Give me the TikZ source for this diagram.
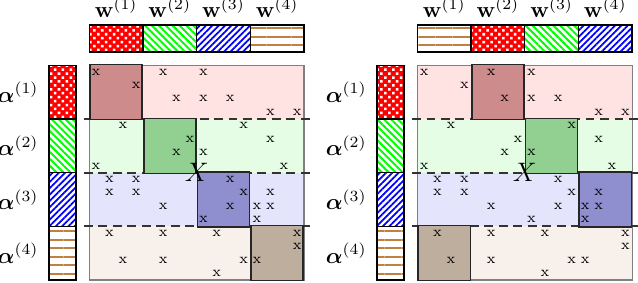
\documentclass[tikz,border=0pt]{standalone}
\usepackage{amsmath}
\usepackage{tikz}
\usetikzlibrary{patterns, patterns.meta}

\definecolor{faixa0}{RGB}{255,227,227}
\definecolor{faixa1}{RGB}{228,253,228}
\definecolor{faixa2}{RGB}{228,228,252}
\definecolor{faixa3}{RGB}{248,240,235}
\definecolor{bloco0}{RGB}{205,139,139}
\definecolor{bloco1}{RGB}{145,208,145}
\definecolor{bloco2}{RGB}{143,143,207}
\definecolor{bloco3}{RGB}{190,174,158}

\tikzset{
  padrao0/.style={preaction={fill=red}, pattern={Dots[distance=2.5pt, radius=0.8pt, angle=45]}, pattern color=white},
  padrao1/.style={preaction={fill=white}, pattern={Lines[distance=2.2pt, angle=-45, line width=0.9pt]}, pattern color=green},
  padrao2/.style={preaction={fill=white}, pattern={Lines[distance=2pt, angle=45, line width=0.8pt]}, pattern color=blue},
  padrao3/.style={preaction={fill=white}, pattern={Lines[distance=3.8pt, angle=0, line width=0.9pt]}, pattern color=brown},
  barra/.style={draw=black, line width=0.6pt},
  bloco/.style={draw=black!85, line width=0.7pt},
  divisao/.style={black!80, line width=0.9pt, dash pattern=on 4pt off 2.5pt},
  marca/.style={inner sep=0pt, font=\fontsize{6.5}{6.5}\selectfont},
}

\begin{document}
\begin{tikzpicture}[x=0.212cm, y=-0.212cm]
  \useasboundingbox (-6.654,-4.866) rectangle (40.887,16.148);
  \foreach \p/\dx/\sh in {E/0/0, D/24.45/1} {
    \begin{scope}[shift={(\dx,0)}]
      % Faixas da matriz
      \foreach \k in {0,1,2,3}
        \fill[faixa\k] (0,4*\k) rectangle (16,4*\k+4);
      \draw[gray, line width=0.5pt] (0,0) rectangle (16,16);
      % Linhas tracejadas
      \foreach \y in {4,8,12}
        \draw[divisao] (-0.4,\y) -- (16.45,\y);
      % Blocos escuros
      \foreach \k in {0,1,2,3} {
        \pgfmathtruncatemacro{\j}{mod(\k+\sh,4)}
        \draw[bloco, fill=bloco\k] (4*\j+0.06,4*\k-0.05) rectangle (4*\j+3.94,4*\k+4.05);
      }
      % Entradas x
      \foreach \c/\r in {0/0, 5/0, 8/0, 3/1, 6/2, 8/2, 10/2, 13/3, 15/3,
                         2/4, 11/4, 7/5, 13/5, 6/6, 8/6, 0/7, 14/7,
                         1/8, 3/8, 10/8, 1/9, 3/9, 11/9, 13/9,
                         5/10, 10/10, 12/10, 13/10, 8/11, 12/11,
                         1/12, 5/12, 9/12, 15/12, 15/13,
                         2/14, 5/14, 11/14, 12/14, 9/15}
        \node[marca] (x\p-\r-\c) at (\c+0.5,\r+0.5) {x};
      \node[font=\large, inner sep=0pt] (X\p) at (8,8) {$X$};
      % Barras w e alfa
      \foreach \k/\n in {0/1, 1/2, 2/3, 3/4} {
        \pgfmathtruncatemacro{\i}{mod(\k-\sh+4,4)}
        \draw[barra, padrao\i] (4*\k,-3) rectangle (4*\k+4,-1);
        \node[anchor=base] (w\p\n) at (4*\k+2,-3.55) {$\mathbf{w}^{(\n)}$};
        \draw[barra, padrao\k] (-3,4*\k) rectangle (-1,4*\k+4);
        \node[anchor=east] (a\p\n) at (-3.2,4*\k+2) {$\boldsymbol{\alpha}^{(\n)}$};
      }
    \end{scope}
  }
\end{tikzpicture}
\end{document}
